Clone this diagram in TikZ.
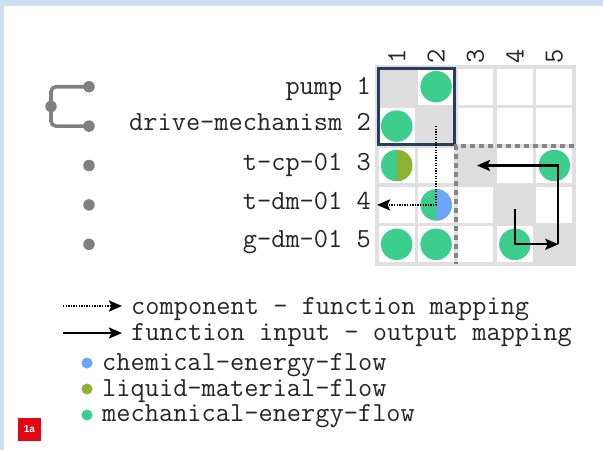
\documentclass[tikz,border=0pt]{standalone}
\usepackage{fontspec}
\newfontfamily\badgefont{Liberation Sans}
\usetikzlibrary{arrows.meta,positioning,calc}
\definecolor{mechgreen}{HTML}{3DCD8D}
\definecolor{liquidolive}{HTML}{8DB22F}
\definecolor{chemblue}{HTML}{6AA5F7}
\definecolor{gridgray}{HTML}{E0E0E0}
\definecolor{diaggray}{HTML}{DDDDDD}
\definecolor{boxnavy}{HTML}{2B3D5C}
\definecolor{bandblue}{HTML}{CEDFF3}
\definecolor{badgered}{HTML}{E30613}
\definecolor{treegray}{HTML}{808080}
\definecolor{dashgray}{HTML}{858585}

\begin{document}
\begin{tikzpicture}[
    x=1pt, y=-1pt,
    every node/.style={font=\ttfamily\fontsize{27.6}{32}\selectfont, text=black!85},
    cell/.style={rectangle, draw=gridgray, line width=3.5pt, fill=white,
        minimum size=39.4pt, inner sep=0pt, outer sep=0pt},
    flowdot/.style={circle, fill=#1, minimum size=31.5pt, inner sep=0pt},
    halfdot/.style 2 args={flowdot=#1, path picture={
        \fill[#2] (path picture bounding box.north) rectangle (path picture bounding box.south east);}},
    legenddot/.style={circle, fill=#1, minimum size=11pt, inner sep=0pt},
    treedot/.style={circle, fill=treegray, minimum size=11.5pt, inner sep=0pt},
    rowlabel/.style={anchor=base east, inner sep=0pt},
    collabel/.style={rotate=90, inner sep=0pt},
    legendtext/.style={anchor=base west, inner sep=0pt},
    maparrow/.style={line width=2.2pt, -{Stealth[length=13pt,width=11pt,inset=2.5pt]}},
    comparrow/.style={maparrow, line width=2.4pt, dash pattern=on 1.3pt off 1.3pt},
    ]
    \useasboundingbox (0,0) rectangle (603,450);
    % page frame
    \fill[white] (0,0) rectangle (603,450);
    \fill[bandblue] (0,0) rectangle (603,6);
    \fill[bandblue] (0,0) rectangle (4,450);

    % matrix
    \foreach \r in {1,...,5}
        \foreach \c in {1,...,5}
            \node[cell] (c-\r-\c) at ({396.7+(\c-1)*39.4}, {86.7+(\r-1)*39.4}) {};
    \foreach \i in {1,...,5}
        \fill[diaggray] ([shift={(-1.5,-1.5)}]c-\i-\i.north west) rectangle ([shift={(1.5,1.5)}]c-\i-\i.south east);
    \draw[boxnavy, line width=3pt] ([shift={(1,1)}]c-1-1.north west) rectangle ([shift={(-1,-1)}]c-2-2.south east);
    \draw[dashgray, line width=3.6pt, dash pattern=on 5pt off 4pt]
        (c-3-5.north east) -- (c-3-3.north west) -- (c-5-3.south west);

    % headers
    \foreach \c in {1,...,5}
        \node[collabel] (h-\c) at ([yshift=11pt]c-1-\c.north) {\c};
    \foreach \r/\lbl/\dy in {1/pump/8, 2/drive-mechanism/4.5, 3/t-cp-01/4.5, 4/t-dm-01/4.5, 5/g-dm-01/3.5}
        \node[rowlabel] (r-\r) at ([xshift=-6pt, yshift=-\dy pt]c-\r-1.west) {\lbl{} \r};

    % flows
    \foreach \r/\c in {1/2, 2/1, 3/5, 5/1, 5/2, 5/4}
        \node[flowdot=mechgreen] (f-\r-\c) at (c-\r-\c) {};
    \node[halfdot={mechgreen}{liquidolive}] (f-3-1) at (c-3-1) {};
    \node[halfdot={mechgreen}{chemblue}] (f-4-2) at (c-4-2) {};

    % mappings
    \draw[comparrow] (c-2-2.center) |- (c-4-1.west);
    \coordinate (turn) at ([xshift=4pt]c-5-5.center);
    \draw[maparrow, shorten <=4pt] (c-4-4.center) |- (turn);
    \draw[maparrow, shorten >=1.5pt] (turn) |- (c-3-3.center);

    % hierarchy
    \foreach \r in {1,...,5}
        \node[treedot] (t-\r) at (89, {86.7+(\r-1)*39.4}) {};
    \node[treedot] (t-root) at ($(t-1)!0.5!(t-2)+(-38,0)$) {};
    \draw[treegray, line width=3.6pt, rounded corners=5pt] (t-1.center) -| (t-root.center) |- (t-2.center);

    % legend
    \node[legendtext] (l-comp) at (131,314) {component - function mapping};
    \node[legendtext] (l-func) at (131,340) {function input - output mapping};
    \coordinate (a-comp) at (63,306);
    \coordinate (a-func) at (63,333);
    \draw[comparrow] (a-comp) -- ([xshift=-9pt]a-comp -| l-comp.west);
    \draw[maparrow] (a-func) -- ([xshift=-9pt]a-func -| l-func.west);
    \foreach \i/\col/\lbl/\base in {0/chemblue/chemical-energy-flow/370,
                                    1/liquidolive/liquid-material-flow/396,
                                    2/mechgreen/mechanical-energy-flow/421} {
        \node[legenddot=\col] (k-\i) at (87, {363+\i*26}) {};
        \node[legendtext] (kt-\i) at (102, \base) {\lbl};
    }

    \node[fill=badgered, text=white, font=\badgefont\bfseries\fontsize{10}{12}\selectfont,
        minimum size=23pt, inner sep=0pt] (badge) at (29.5,429.5) {1a};
\end{tikzpicture}
\end{document}
